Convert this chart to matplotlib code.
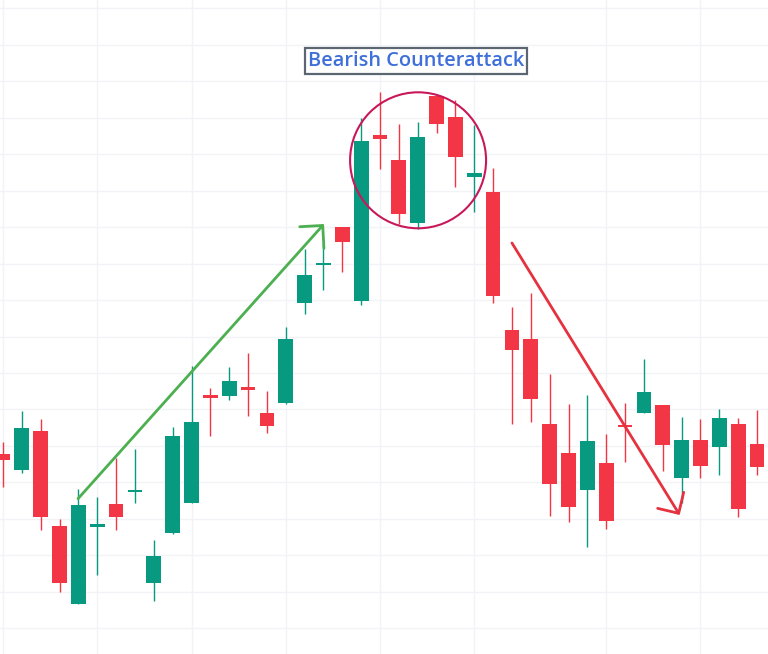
import matplotlib
matplotlib.use("Agg")
import matplotlib.pyplot as plt
from matplotlib.patches import Ellipse
import numpy as np

# OHLC values (arbitrary price units)
opens = [200, 184.3, 223, 128, 49.7, 127.3, 150, 162.5, 71.3, 121.3,
         151.3, 259, 258, 267, 241.3, 251.3, 351.3, 389.5, 427.3, 353.3,
         518.7, 494, 431.3, 558.3, 537, 476.7, 462, 324, 315, 230,
         201, 164.3, 191, 229.5, 241.3, 249, 176.3, 214, 207.3, 230, 210]
highs = [212.3, 243, 235, 134.7, 165, 156.7, 196.3, 205, 114, 226.7,
         288.3, 266.3, 287.3, 301, 263, 327.3, 405, 410.7, 427.3, 535.7,
         562.3, 530, 532.3, 558.3, 553.7, 529, 486.3, 346.7, 360.7, 279.7,
         250, 259, 220, 251, 295, 249, 237.3, 235, 245, 236.3, 244]
lows = [167.3, 181.3, 124.3, 62.3, 49.7, 79.3, 124.3, 151.3, 53.3, 120,
        151.3, 218.3, 254, 238.3, 220.7, 249.7, 340.3, 364, 382.3, 349,
        485, 430, 424.7, 521.3, 467.3, 442.3, 351.5, 230.3, 232.3, 138.3,
        132.3, 107.3, 124.7, 192.3, 241.3, 183.3, 151.3, 176.3, 179.3, 137.3, 179.3]
closes = [194, 225.7, 137.3, 71.3, 149, 130, 137.3, 163.5, 98, 218,
          232.3, 256.3, 273, 264, 228, 315.3, 379, 390.5, 412.3, 513.3,
          515.3, 440.3, 517, 529.7, 497.3, 480.7, 358, 304.3, 255.3, 170.3,
          147.3, 213, 133.3, 227.5, 262, 209.3, 214, 188.3, 236, 145.3, 187.3]

title_text = "Bearish Counterattack"

UP = "#089981"
DOWN = "#f23645"
GRID = "#f1f3f6"

fig = plt.figure(figsize=(7.68, 6.54), dpi=100)
ax = fig.add_axes([0, 0, 1, 1])
ax.set_facecolor("white")

# pixel mapping: x_pix = 3 + 18.85*i ; y_pix = 654 - price
step = 18.85
ax.set_xlim(-3 / step, 765 / step)
ax.set_ylim(0, 654)
for s in ax.spines.values():
    s.set_visible(False)
ax.set_xticks([])
ax.set_yticks([])

# grid
for gi in [0, 5, 10, 15, 20, 25, 32, 37]:
    ax.axvline(gi, color=GRID, lw=1.0, zorder=0)
for gy in np.arange(645.7, 0, -36.47):
    ax.axhline(gy, color=GRID, lw=1.0, zorder=0)

idx = np.arange(len(opens))
o = np.array(opens); h = np.array(highs); l = np.array(lows); c = np.array(closes)
colors = [UP if cc >= oo else DOWN for oo, cc in zip(o, c)]
ax.vlines(idx, l, h, colors=colors, lw=1.0, zorder=2)
bottoms = np.minimum(o, c)
heights = np.maximum(np.abs(c - o), 1.2)
ax.bar(idx, heights, bottom=bottoms, width=0.78, color=colors, lw=0, zorder=3)

# arrows
ax.annotate("", xy=(17.03, 430), xytext=(3.98, 155.3),
            arrowprops=dict(arrowstyle="->,head_length=1.17,head_width=1.17",
                            color="#4caf50", lw=2.0, shrinkA=0, shrinkB=0,
                            mutation_scale=10), zorder=5)
ax.annotate("", xy=(35.9, 139), xytext=(27.0, 411),
            arrowprops=dict(arrowstyle="->,head_length=1.1,head_width=1.1",
                            color="#e5323f", lw=2.0, shrinkA=0, shrinkB=0,
                            mutation_scale=10), zorder=5)

# circle
circ = Ellipse((22.02, 493.7), width=136 / step, height=136, fill=False,
               edgecolor="#c8185a", lw=1.5, zorder=5)
ax.add_patch(circ)

# title box
ax.text((415.9 - 3) / step, 654 - 61.2, title_text, ha="center", va="center",
        fontsize=14.4, color="#3f6fd8", family=["Open Sans", "DejaVu Sans"],
        fontweight="semibold", zorder=6,
        bbox=dict(boxstyle="square,pad=0.14", facecolor="white",
                  edgecolor="#5b6672", lw=1.6))

fig.savefig("out.png", dpi=100)
